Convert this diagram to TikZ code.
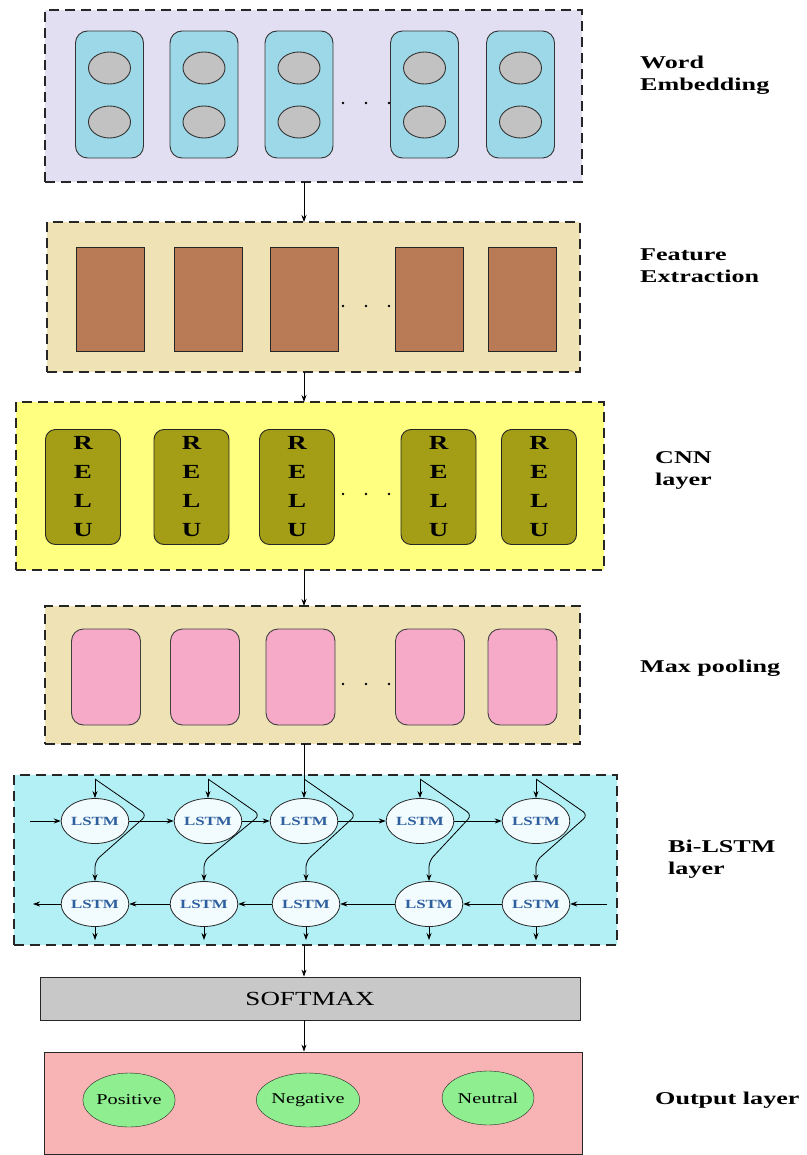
\documentclass[tikz,border=0pt]{standalone}
\usepackage{fontspec}
\setmainfont{Liberation Serif}[FakeStretch=1.35]
\newfontfamily\labelfont{Liberation Serif}[FakeStretch=1.45]
\usetikzlibrary{arrows.meta,calc,shapes.geometric}
\definecolor{lavbg}{HTML}{E3DFF2}
\definecolor{wheatbg}{HTML}{EFE3B6}
\definecolor{yellowbg}{HTML}{FFFF80}
\definecolor{cyanbg}{HTML}{B2F0F6}
\definecolor{embblue}{HTML}{9DD8E8}
\definecolor{embgray}{HTML}{C2C2C2}
\definecolor{featbrown}{HTML}{B97A56}
\definecolor{reluolive}{HTML}{A39E16}
\definecolor{poolpink}{HTML}{F7A9C8}
\definecolor{lstmblue}{HTML}{2E5F9E}
\definecolor{smgray}{HTML}{C8C8C8}
\definecolor{outred}{HTML}{F8B4B4}
\definecolor{outgreen}{HTML}{8FEE8F}
\begin{document}
\begin{tikzpicture}[
    x=1pt, y=-1pt,
    layerbox/.style={
       draw=black!85, line width=1.1pt, dash pattern=on 10pt off 6pt,
       inner sep=0pt, outer sep=0pt
        },
    embcol/.style={
       draw=black!80, line width=0.9pt, fill=embblue, rounded corners=12pt,
       minimum width=68pt, minimum height=127pt, inner sep=0pt
        },
    embdot/.style={
       ellipse, draw=black!80, line width=0.9pt, fill=embgray,
       minimum width=42pt, minimum height=32pt, inner sep=0pt
        },
    featrect/.style={
       draw=black!85, line width=0.9pt, fill=featbrown,
       minimum width=68pt, minimum height=104pt, inner sep=0pt
        },
    relu/.style={
       draw=black!85, line width=0.9pt, fill=reluolive, rounded corners=10pt,
       minimum width=75pt, minimum height=115pt, inner sep=0pt,
       align=center, font=\fontsize{20}{29}\selectfont\bfseries
        },
    poolrect/.style={
       draw=black!75, line width=0.9pt, fill=poolpink, rounded corners=12pt,
       minimum width=69pt, minimum height=96pt, inner sep=0pt
        },
    lstm/.style={
       ellipse, draw=black!85, fill=white!95!cyan, thick,
       minimum width=57pt, minimum height=45pt, inner sep=0pt,
       text=lstmblue, font=\fontsize{12.5}{12.5}\selectfont\bfseries
        },
    result/.style={
       ellipse, draw=black!85, fill=outgreen,
       minimum width=92pt, minimum height=54pt, inner sep=0pt,
       font=\fontsize{15}{15}\selectfont
        },
    sidelabel/.style={
       anchor=west, align=left, inner sep=0pt,
       font=\labelfont\fontsize{18}{22}\selectfont\bfseries
        },
    arr/.style={-{Stealth[length=7pt,width=5pt]}, thick}]

\useasboundingbox (0,0) rectangle (806,1155);
\coordinate (axis) at (304,0);

\node [layerbox, fill=lavbg, minimum width=537pt, minimum height=172pt] (we) at (313.5,96) {};
\node [layerbox, fill=wheatbg, minimum width=533pt, minimum height=150pt] (fe) at (313.5,297) {};
\node [layerbox, fill=yellowbg, minimum width=588pt, minimum height=168pt] (cnn) at (310,486) {};
\node [layerbox, fill=wheatbg, minimum width=535pt, minimum height=138pt] (mp) at (312.5,675) {};
\node [layerbox, fill=cyanbg, minimum width=603pt, minimum height=170pt] (bi) at (315.5,860) {};
\node [draw=black!85, thick, fill=smgray, minimum width=540pt, minimum height=43pt,
   font=\fontsize{20}{20}\selectfont] (sm) at (310,998.5) {SOFTMAX};
\node [draw=black!85, thick, fill=outred, minimum width=538pt, minimum height=102pt] (out) at (313,1103) {};

\foreach [count=\j] \x in {109.5,204,299,424.5,520.5} {
   \node [embcol] (e-\j) at (\x,94.5) {};
   \node [embdot] (e-1-\j) at (\x,68) {};
   \node [embdot] (e-2-\j) at (\x,122) {};
  }
\foreach [count=\j] \x in {110,208.5,304,429,522.5} {
   \node [featrect] (f-\j) at (\x,299) {};
  }
\foreach [count=\j] \x in {83,191.5,297,438.5,539} {
   \node [relu] (r-\j) at (\x,487) {R\\E\\L\\U};
  }
\foreach [count=\j] \x in {106,205,300.5,430,522.5} {
   \node [poolrect] (p-\j) at (\x,677) {};
  }
\foreach \x in {343,366,389} {
   \fill (\x,103) circle (1.3pt);
   \fill (\x,306) circle (1.3pt);
   \fill (\x,494) circle (1.3pt);
   \fill (\x,684) circle (1.3pt);
  }

\foreach [count=\j] \x in {95,208,304,420,536} {
   \node [lstm] (t-\j) at (\x,821) {LSTM};
   \coordinate (s-\j) at (\x,779);
   \draw [arr] (s-\j) -- (t-\j);
  }
\foreach [count=\j] \x in {95,204,306,429,536} {
   \node [lstm] (b-\j) at (\x,904) {LSTM};
   \draw [arr] (b-\j) -- ++(0,36);
  }
\foreach \j in {1,...,5} {
   \draw [arr, rounded corners=6pt] (s-\j) -- ++(52,36) -- ($(b-\j.north)+(0,-20)$) -- (b-\j.north);
  }
\foreach [remember=\i as \j (initially 1)] \i in {2,...,5} {
   \draw [arr] (t-\j) -- (t-\i);
   \draw [arr] (b-\i) -- (b-\j);
 }
\coordinate (in-l) at (30,821);
\coordinate (in-r) at (607,904);
\coordinate (out-l) at (33,904);
\draw [arr] (in-l) -- (t-1);
\draw [arr] (in-r) -- (b-5);
\draw [arr] (b-1) -- (out-l);

\draw [arr] (we.south -| axis) -- (fe.north -| axis);
\draw [arr] (fe.south -| axis) -- (cnn.north -| axis);
\draw [arr] (cnn.south -| axis) -- (mp.north -| axis);
\draw [thick] (mp.south -| axis) -- (s-3);
\draw [arr] (bi.south -| axis) -- (sm.north -| axis);
\draw [arr] (sm.south -| axis) -- (out.north -| axis);

\node [result] (o-1) at (129,1100) {Positive};
\node [result] (o-2) at (308,1100) {Negative};
\node [result] (o-3) at (488,1098) {Neutral};

\node [sidelabel] (l-we) at (640,75) {Word\\Embedding};
\node [sidelabel] (l-fe) at (640,266) {Feature\\Extraction};
\node [sidelabel] (l-cnn) at (655,470) {CNN\\layer};
\node [sidelabel] (l-mp) at (640,668) {Max pooling};
\node [sidelabel] (l-bi) at (668,859) {Bi-LSTM\\layer};
\node [sidelabel] (l-out) at (655,1100) {Output layer};
\end{tikzpicture}
\end{document}
